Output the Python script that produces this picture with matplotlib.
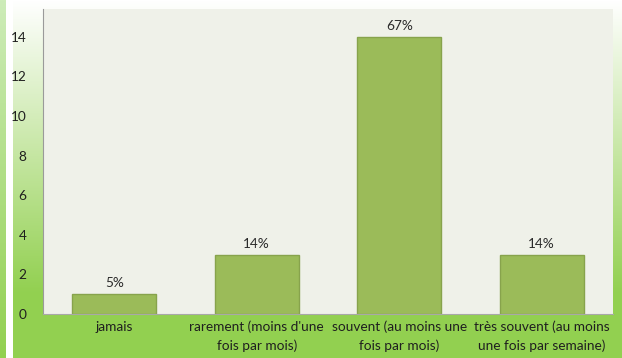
import matplotlib
matplotlib.use("Agg")
import matplotlib.pyplot as plt
import numpy as np

categories = ["jamais",
              "rarement (moins d'une\nfois par mois)",
              "souvent (au moins une\nfois par mois)",
              "très souvent (au moins\nune fois par semaine)"]
counts = [1, 3, 14, 3]
percent_labels = ["5%", "14%", "67%", "14%"]
yticks = [0, 2, 4, 6, 8, 10, 12, 14]

plt.rcParams['font.family'] = ['Lato', 'DejaVu Sans']

W, H = 622, 358
fig = plt.figure(figsize=(W / 100, H / 100), dpi=100)

# background: green strip on the left, white gap, then a white-to-green panel
green = np.array([146, 208, 80]) / 255
white = np.ones(3)
rows = np.linspace(0, 1, H)
t = np.clip(rows / 0.82, 0, 1)[:, None]
panel = white * (1 - t) + green * t
strip_top = np.array([205, 236, 185]) / 255
strip = strip_top * (1 - rows[:, None]) + green * rows[:, None]
bg = np.ones((H, W, 3))
bg[:, 13:, :] = panel[:, None, :]
bg[:, :6, :] = strip[:, None, :]
bgax = fig.add_axes([0, 0, 1, 1], zorder=-1)
bgax.imshow(bg, aspect='auto', extent=[0, W, H, 0])
bgax.axis('off')

ax = fig.add_axes([43 / W, 1 - 314 / H, 570 / W, 305 / H])
ax.set_facecolor('#eff1e9')
x = np.arange(len(categories))
bars = ax.bar(x, counts, width=0.59, color='#9bbb59', edgecolor='#87a34c', linewidth=1, zorder=2)
for b, lab in zip(bars, percent_labels):
    ax.text(b.get_x() + b.get_width() / 2, b.get_height() + 0.25, lab,
            ha='center', va='bottom', fontsize=9.8, color='#2a2a2a')

ax.set_xlim(-0.5, len(categories) - 0.5)
ax.set_ylim(0, 15.4)
ax.set_yticks(yticks)
ax.set_xticks(x)
ax.set_xticklabels(categories, fontsize=9.8, color='#1f1f1f', linespacing=1.6)
ax.tick_params(axis='y', length=0, pad=12, labelsize=9.8, labelcolor='#1f1f1f')
ax.tick_params(axis='x', length=0, pad=5)
for s in ['top', 'right']:
    ax.spines[s].set_visible(False)
ax.spines['left'].set_color('#9a9a9a')
ax.spines['bottom'].set_color('#a8a8a8')

plt.savefig('out.png', dpi=100)
